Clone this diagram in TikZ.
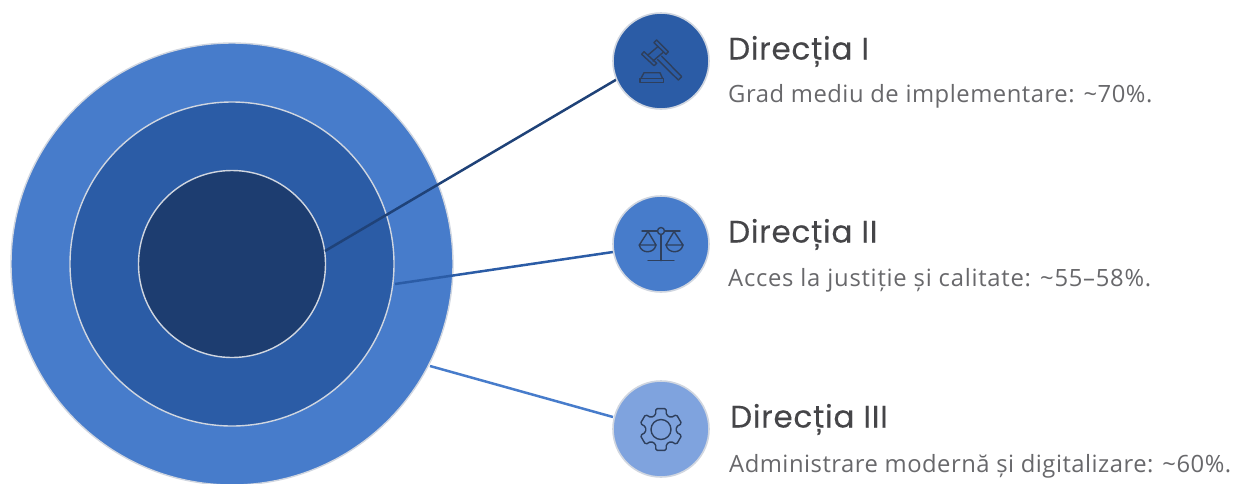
\documentclass[tikz,border=0pt]{standalone}
\usepackage{fontspec}
\setmainfont[LetterSpace=1.9]{Open Sans}
\newfontfamily\headfont[LetterSpace=2.4,FakeBold=0.25]{Poppins}
\definecolor{cA}{HTML}{477CCB}
\definecolor{cB}{HTML}{2B5CA6}
\definecolor{cC}{HTML}{1D3D70}
\definecolor{cD}{HTML}{7FA3DE}
\definecolor{ringline}{HTML}{D0D6E0}
\definecolor{icon}{HTML}{2E3F5C}
\definecolor{head}{HTML}{454548}
\definecolor{body}{HTML}{68686B}
\tikzset{
  x=1pt,y=-1pt,
  ring/.style={circle,draw=ringline,line width=1.4pt,inner sep=0pt,minimum size=#1},
  disc/.style={circle,draw=ringline,line width=1.6pt,inner sep=0pt,minimum size=96pt},
  wire/.style={line width=2.5pt},
  ico/.style={draw=icon,line width=1.4pt,line join=round,line cap=round},
  title/.style={anchor=base west,inner sep=0pt,text=head,font=\headfont\fontsize{31}{34}\selectfont},
  desc/.style={anchor=base west,inner sep=0pt,text=body,font=\fontsize{23.8}{28}\selectfont},
}
\begin{document}
\begin{tikzpicture}
\useasboundingbox (0,0) rectangle (1234,483);
\fill[white] (0,0) rectangle (1234,483);
\clip (0,0) rectangle (1234,483);
\node[ring=442pt,fill=cA] (outer) at (232,264) {};
\node[ring=324pt,fill=cB] (middle) at (232,264) {};
\node[ring=187pt,fill=cC] (inner) at (232,264) {};
\coordinate (s1) at (325,251);
\coordinate (s2) at (395,284);
\coordinate (s3) at (430,366);
\coordinate (e1) at (619,78);
\coordinate (e2) at (613,252);
\coordinate (e3) at (613,417);
\draw[wire,draw=cC!85!cB] (s1) -- (e1);
\draw[wire,draw=cB] (s2) -- (e2);
\draw[wire,draw=cA] (s3) -- (e3);
\node[disc,fill=cB] (d1) at (661,61) {};
\node[disc,fill=cA] (d2) at (661,244) {};
\node[disc,fill=cD] (d3) at (661,429) {};
% gavel
\begin{scope}[shift={(661,61)},ico]
\draw (-4.3,-21) -- (7.3,-9.3) -- (5,-6.7) -- (-7,-18.3) -- cycle;
\draw (-17,-9.3) -- (-4.3,2.3) -- (-7,4.7) -- (-19.3,-6.7) -- cycle;
\draw (-3,-14.5) -- (-13,-6);
\draw (2.5,-9) -- (-8,0);
\draw (0.5,-5) -- (20.7,15.7) -- (17.3,19) -- (-3.5,-1.5);
\draw (-21,17.3) -- (2.3,17.3) -- (2.3,21.7) -- (-21,21.7) -- cycle;
\draw (-20,17.3) -- (-17,11.7) -- (-1,11.7) -- (1.5,17.3);
\end{scope}
% scales
\begin{scope}[shift={(661,244)},ico]
\draw (0,-13) circle (3.5);
\draw (0,-9.5) -- (0,16.7);
\draw (-13,16.7) -- (13,16.7);
\draw (-19,-13) -- (-3.5,-13);
\draw (3.5,-13) -- (19,-13);
\draw (-13,-12.5) -- (-21.7,1) -- (-5,1) -- cycle;
\draw (-21.7,1) .. controls (-20,10) and (-7,10) .. (-5,1);
\draw (13,-12.5) -- (5,1) -- (22,1) -- cycle;
\draw (5,1) .. controls (7,10) and (20,10) .. (22,1);
\end{scope}
% gear
\begin{scope}[shift={(661,429.5)},ico]
\draw (0,0) circle (10);
\draw[rounded corners=1.5pt] (76:21.5)
  \foreach \a in {90,150,210,270,330,390} { -- (\a-14:21.5) -- (\a+14:21.5) -- (\a+20:15.5) -- (\a+40:15.5) } -- cycle;
\end{scope}
\node[title] (t1) at (728,59.5) {Direcția I};
\node[desc] (b1) at (728,102) {\addfontfeature{LetterSpace=2.2}Grad mediu de implementare: \textasciitilde70\%.};
\node[title] (t2) at (728,242.5) {Direcția II};
\node[desc] (b2) at (728,286) {\addfontfeature{LetterSpace=3.1}Acces la justiție și calitate: \textasciitilde55–58\%.};
\node[title] (t3) at (730,427.5) {Direcția III};
\node[desc] (b3) at (729,472) {\addfontfeature{LetterSpace=2.1}Administrare modernă și digitalizare: \textasciitilde60\%.};
\end{tikzpicture}
\end{document}
